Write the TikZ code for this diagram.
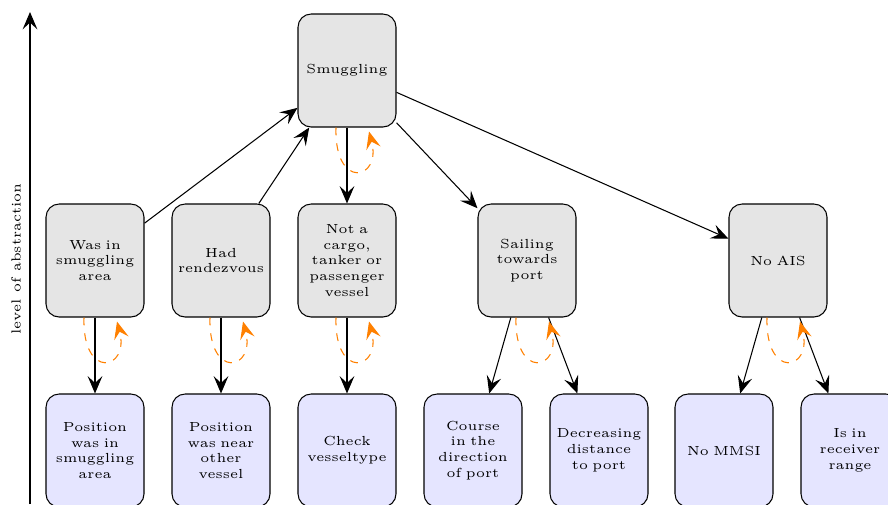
\documentclass[tikz,border=0pt]{standalone}
\usetikzlibrary{arrows.meta,calc}

% dashed self-feedback arc under a node
\newcommand\feedbackarc[1]{%
  \draw[feedback] ($(#1.south)+(-11,0)$) .. controls +(-2,63) and +(13,49) .. ($(#1.south)+(22,4)$);}

\begin{document}
\begin{tikzpicture}[x=0.38pt,y=-0.38pt,
  box/.style={draw, rounded corners=5pt, minimum width=37.24pt, minimum height=42.94pt,
    text width=35pt, inner sep=1pt, align=center, font=\tiny},
  cue/.style={box, fill=black!10},
  evidence/.style={box, fill=blue!10},
  tip/.style={-{Stealth[length=6.6pt,width=5.6pt,inset=2.6pt]}},
  link/.style={tip},
  feedback/.style={orange, dashed, tip},
]
\useasboundingbox (0,0) rectangle (888,504);

% abstraction axis
\coordinate (axisbase) at (30,504);
\coordinate (axistop) at (30,12);
\draw[link] (axisbase) -- (axistop);
\node[rotate=90, font=\tiny, inner sep=0pt] (axislabel) at (16,259) {level of abstraction};

% top level
\node[cue] (smug) at (347,70.5) {Smuggling};

% intermediate cues
\node[cue] (area) at (95,260.5) {Was in\\smuggling\\area};
\node[cue] (rdv)  at (221,260.5) {Had\\rendezvous};
\node[cue] (type) at (347,260.5) {Not a\\cargo,\\tanker or\\passenger\\vessel};
\node[cue] (port) at (527,260.5) {Sailing\\towards\\port};
\node[cue] (ais)  at (778,260.5) {No AIS};

% observable evidence
\node[evidence] (pos)    at (95,450.5)  {Position\\was in\\smuggling\\area};
\node[evidence] (near)   at (221,450.5) {Position\\was near\\other\\vessel};
\node[evidence] (check)  at (347,450.5) {Check\\vesseltype};
\node[evidence] (course) at (473,450.5) {Course\\in the\\direction\\of port};
\node[evidence] (dist)   at (599,450.5) {Decreasing\\distance\\to port};
\node[evidence] (mmsi)   at (724,450.5) {No MMSI};
\node[evidence] (range)  at (850,450.5) {Is in\\receiver\\range};

% connectors
\draw[link] (area) -- (smug);
\draw[link] (rdv) -- (smug);
\draw[link] (smug) -- (type);
\draw[link] (smug) -- (port);
\draw[link] (smug) -- (ais);
\draw[link] (area) -- (pos);
\draw[link] (rdv) -- (near);
\draw[link] (type) -- (check);
\draw[link] (port) -- (course);
\draw[link] (port) -- (dist);
\draw[link] (ais) -- (mmsi);
\draw[link] (ais) -- (range);

% feedback arcs
\feedbackarc{smug}
\feedbackarc{area}
\feedbackarc{rdv}
\feedbackarc{type}
\feedbackarc{port}
\feedbackarc{ais}
\end{tikzpicture}
\end{document}
